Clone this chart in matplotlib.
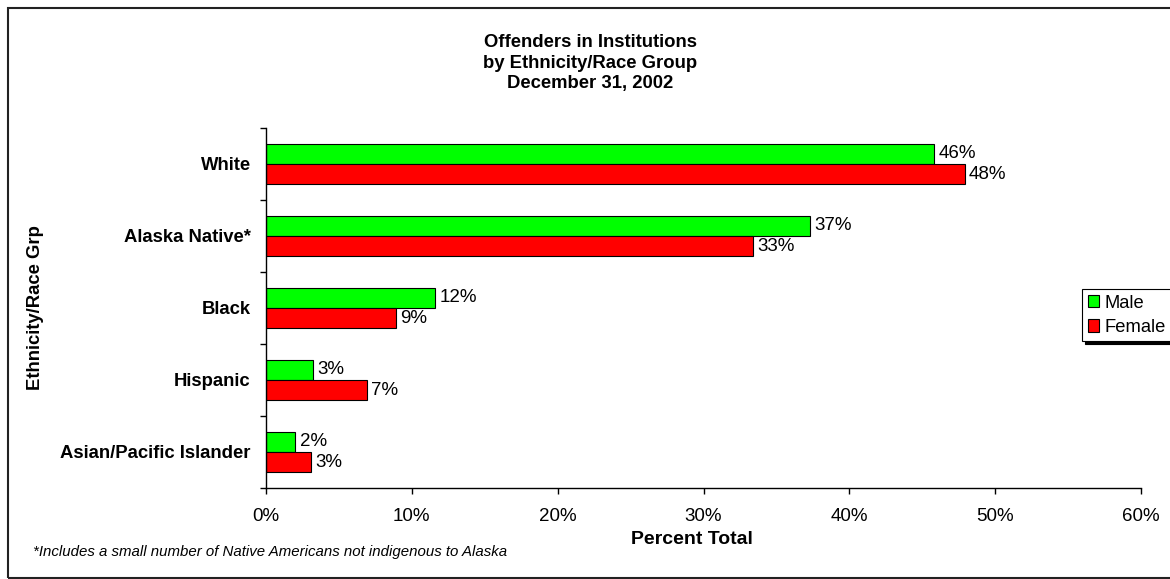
import matplotlib
matplotlib.use('Agg')
import matplotlib.pyplot as plt
from matplotlib.patches import Rectangle
import numpy as np

plt.rcParams['font.family'] = ['Liberation Sans', 'DejaVu Sans']

groups = ['White', 'Alaska Native*', 'Black', 'Hispanic', 'Asian/Pacific Islander']
male = [45.8, 37.3, 11.6, 3.2, 2.0]
female = [47.9, 33.4, 8.9, 6.9, 3.1]
male_lbl = ['46%', '37%', '12%', '3%', '2%']
female_lbl = ['48%', '33%', '9%', '7%', '3%']

fig = plt.figure(figsize=(11.7, 5.79), dpi=100)
ax = fig.add_axes([266/1170, 1 - 488/579, (1141 - 266)/1170, (488 - 128)/579])

y = np.arange(len(groups))
h = 0.278
ax.barh(y - h/2, male, height=h, color='#00ff00', edgecolor='black', linewidth=0.8, label='Male')
ax.barh(y + h/2, female, height=h, color='#ff0000', edgecolor='black', linewidth=0.8, label='Female')

for i in range(len(groups)):
    ax.text(male[i] + 0.3, y[i] - h/2, male_lbl[i], va='center', ha='left', fontsize=13.5)
    ax.text(female[i] + 0.3, y[i] + h/2, female_lbl[i], va='center', ha='left', fontsize=13.5)

ax.set_xlim(0, 60)
ax.set_ylim(len(groups) - 0.5, -0.5)
ax.set_xticks(np.arange(0, 61, 10))
ax.set_xticklabels(['%d%%' % v for v in range(0, 61, 10)], fontsize=13.5)
ax.set_yticks(y)
ax.set_yticklabels(groups, fontsize=13.3, fontweight='bold')
ax.set_yticks(np.arange(-0.5, len(groups), 1), minor=True)
ax.tick_params(axis='y', which='major', length=0, pad=11)
ax.tick_params(axis='y', which='minor', length=4.5, width=1, direction='out')
ax.tick_params(axis='x', length=4.5, width=1, direction='out', pad=10)
ax.spines['top'].set_visible(False)
ax.spines['right'].set_visible(False)
ax.spines['left'].set_linewidth(1)
ax.spines['bottom'].set_linewidth(1)

leg = fig.legend(loc='upper left', bbox_to_anchor=(1082/1170, 1 - 289/579), fontsize=13.2,
                 fancybox=False, edgecolor='black', framealpha=1,
                 shadow={'color': 'black', 'alpha': 1},
                 handlelength=0.65, handleheight=0.65, handletextpad=0.25,
                 borderpad=0.3, labelspacing=0.4, borderaxespad=0)
leg.get_frame().set_linewidth(0.8)

fig.text(590/1170, 1 - 63/579, 'Offenders in Institutions\nby Ethnicity/Race Group\nDecember 31, 2002',
         ha='center', va='center', fontsize=13.3, fontweight='bold', linespacing=1.3)
fig.text(36/1170, 1 - 308/579, 'Ethnicity/Race Grp', rotation=90, ha='center', va='center',
         fontsize=13.3, fontweight='bold')
fig.text(692/1170, 1 - 540/579, 'Percent Total', ha='center', va='center',
         fontsize=14, fontweight='bold')
fig.text(33/1170, 1 - 552/579, '*Includes a small number of Native Americans not indigenous to Alaska',
         ha='left', va='center', fontsize=10.8, style='italic')

fig.patches.append(Rectangle((8/1170, 1 - 578/579), 1.0, (578 - 8)/579, transform=fig.transFigure,
                             fill=False, edgecolor='#222222', linewidth=1.5, figure=fig))

fig.savefig('out.png', dpi=100)
